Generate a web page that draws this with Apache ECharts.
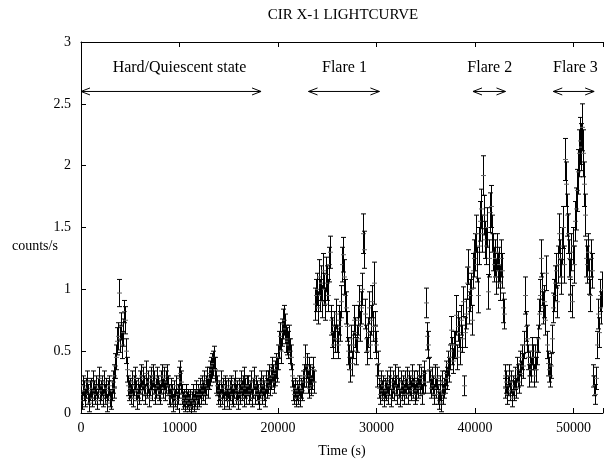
<!DOCTYPE html>
<html>
<head>
<meta charset="utf-8">
<script src="https://cdn.jsdelivr.net/npm/echarts@6/dist/echarts.min.js"></script>
<style>
  html, body { margin: 0; padding: 0; background: #fff; }
  #chart { width: 606px; height: 463px; }
</style>
</head>
<body>
<div id="chart"></div>
<script>
// light curve in 100 s bins, first bin at t = 0 (one row = 1000 s)
var binSize = 100;
var rates = [
  0.15, 0.10, 0.22, 0.18, 0.12, 0.20, 0.25, 0.15, 0.08, 0.18,
  0.20, 0.12, 0.25, 0.18, 0.15, 0.22, 0.10, 0.20, 0.28, 0.15,
  0.18, 0.22, 0.12, 0.25, 0.15, 0.20, 0.08, 0.18, 0.22, 0.12,
  0.10, 0.18, 0.25, 0.20, 0.30, 0.38, 0.45, 0.58, 0.62, 0.97,
  0.60, 0.70, 0.55, 0.65, 0.82, 0.75, 0.50, 0.35, 0.22, 0.18,
  0.20, 0.15, 0.25, 0.12, 0.22, 0.28, 0.18, 0.10, 0.20, 0.15,
  0.25, 0.30, 0.18, 0.28, 0.22, 0.15, 0.32, 0.20, 0.25, 0.12,
  0.22, 0.28, 0.18, 0.30, 0.25, 0.15, 0.20, 0.28, 0.22, 0.18,
  0.15, 0.25, 0.30, 0.20, 0.28, 0.18, 0.25, 0.30, 0.22, 0.15,
  0.12, 0.20, 0.15, 0.08, 0.18, 0.12, 0.22, 0.10, 0.15, 0.20,
  0.28, 0.32, 0.25, 0.15, 0.10, 0.12, 0.08, 0.15, 0.10, 0.12,
  0.08, 0.12, 0.05, 0.10, 0.15, 0.08, 0.12, 0.18, 0.10, 0.15,
  0.12, 0.20, 0.15, 0.22, 0.18, 0.25, 0.15, 0.22, 0.28, 0.20,
  0.28, 0.32, 0.35, 0.38, 0.40, 0.45, 0.35, 0.25, 0.22, 0.15,
  0.18, 0.12, 0.25, 0.15, 0.20, 0.10, 0.22, 0.18, 0.12, 0.20,
  0.10, 0.18, 0.22, 0.15, 0.12, 0.20, 0.25, 0.15, 0.18, 0.10,
  0.20, 0.15, 0.25, 0.18, 0.22, 0.12, 0.28, 0.20, 0.15, 0.22,
  0.22, 0.15, 0.18, 0.25, 0.12, 0.20, 0.28, 0.15, 0.22, 0.18,
  0.15, 0.10, 0.20, 0.25, 0.15, 0.22, 0.18, 0.12, 0.25, 0.20,
  0.25, 0.30, 0.22, 0.28, 0.35, 0.30, 0.25, 0.32, 0.38, 0.35,
  0.45, 0.55, 0.62, 0.50, 0.65, 0.72, 0.75, 0.68, 0.60, 0.58,
  0.55, 0.60, 0.50, 0.45, 0.30, 0.18, 0.15, 0.20, 0.12, 0.18,
  0.15, 0.22, 0.12, 0.20, 0.18, 0.25, 0.30, 0.45, 0.30, 0.38,
  0.25, 0.35, 0.20, 0.30, 0.22, 0.28, 0.35, 0.25, 0.88, 0.95,
  1.00, 0.85, 1.10, 0.95, 1.05, 0.90, 1.15, 1.00, 0.88, 1.12,
  1.05, 0.95, 1.20, 1.30, 0.75, 0.65, 0.55, 0.70, 0.60, 0.80,
  0.60, 0.55, 0.75, 0.70, 0.90, 1.20, 1.28, 1.10, 0.95, 0.85,
  0.70, 0.50, 0.45, 0.35, 0.60, 0.40, 0.55, 0.75, 0.65, 0.50,
  0.60, 0.75, 0.90, 0.70, 0.85, 1.00, 1.45, 1.32, 0.80, 0.60,
  0.50, 0.65, 0.85, 0.55, 0.75, 0.90, 0.70, 1.05, 0.60, 0.70,
  0.55, 0.30, 0.40, 0.20, 0.15, 0.25, 0.18, 0.22, 0.12, 0.20,
  0.18, 0.25, 0.15, 0.22, 0.28, 0.12, 0.20, 0.25, 0.18, 0.30,
  0.22, 0.15, 0.28, 0.20, 0.12, 0.25, 0.18, 0.22, 0.15, 0.25,
  0.20, 0.28, 0.15, 0.25, 0.22, 0.18, 0.30, 0.20, 0.25, 0.15,
  0.18, 0.25, 0.20, 0.30, 0.22, 0.28, 0.15, 0.25, 0.32, 0.25,
  0.89, 0.62, 0.55, 0.35, 0.25, 0.20, 0.28, 0.22, 0.15, 0.30,
  0.20, 0.28, 0.15, 0.10, 0.22, 0.18, 0.08, 0.25, 0.15, 0.20,
  0.25, 0.32, 0.28, 0.40, 0.35, 0.45, 0.67, 0.50, 0.42, 0.55,
  0.55, 0.79, 0.45, 0.70, 0.65, 0.50, 0.75, 0.60, 0.90, 0.22,
  0.65, 0.80, 1.05, 1.18, 0.85, 0.95, 1.00, 0.75, 1.15, 1.25,
  1.30, 1.45, 1.20, 0.95, 1.35, 1.55, 1.65, 1.45, 1.92, 1.60,
  1.40, 1.35, 1.50, 0.98, 1.25, 1.62, 1.67, 1.45, 1.30, 1.20,
  1.25, 1.10, 1.30, 1.15, 1.20, 1.05, 1.25, 1.15, 0.85, 0.80,
  0.30, 0.20, 0.25, 0.15, 0.22, 0.30, 0.18, 0.25, 0.12, 0.22,
  0.18, 0.28, 0.20, 0.35, 0.30, 0.25, 0.40, 0.32, 0.45, 0.38,
  0.55, 0.95, 0.70, 0.60, 0.45, 0.30, 0.40, 0.35, 0.50, 0.45,
  0.30, 0.45, 0.35, 0.50, 0.60, 0.80, 0.95, 1.25, 1.00, 0.85,
  0.90, 0.75, 1.13, 0.55, 0.40, 0.35, 0.30, 0.38, 0.60, 0.85,
  0.95, 1.05, 1.15, 0.90, 1.20, 1.45, 1.25, 1.10, 1.35, 1.50,
  1.20, 2.05, 1.85, 1.60, 1.45, 1.25, 0.95, 1.10, 1.30, 0.90,
  1.35, 1.20, 1.55, 1.65, 1.80, 1.95, 2.10, 2.20, 2.15, 2.31,
  2.10, 1.85, 1.60, 1.25, 1.20, 1.30, 1.10, 0.95, 1.25, 1.15,
  0.30, 0.22, 0.15, 0.28, 0.55, 0.80, 0.65, 0.95, 0.85, 1.00
];
var errors = [
  0.08, 0.07, 0.08, 0.08, 0.07, 0.08, 0.09, 0.08, 0.07, 0.08,
  0.08, 0.07, 0.09, 0.08, 0.08, 0.08, 0.07, 0.08, 0.09, 0.08,
  0.08, 0.08, 0.07, 0.09, 0.08, 0.08, 0.07, 0.08, 0.08, 0.07,
  0.07, 0.08, 0.09, 0.08, 0.09, 0.10, 0.10, 0.11, 0.11, 0.11,
  0.11, 0.11, 0.11, 0.11, 0.09, 0.11, 0.10, 0.10, 0.08, 0.08,
  0.08, 0.08, 0.09, 0.07, 0.08, 0.09, 0.08, 0.07, 0.08, 0.08,
  0.09, 0.09, 0.08, 0.09, 0.08, 0.08, 0.10, 0.08, 0.09, 0.07,
  0.08, 0.09, 0.08, 0.09, 0.09, 0.08, 0.08, 0.09, 0.08, 0.08,
  0.08, 0.09, 0.09, 0.08, 0.09, 0.08, 0.09, 0.09, 0.08, 0.08,
  0.07, 0.08, 0.08, 0.07, 0.08, 0.07, 0.08, 0.07, 0.08, 0.08,
  0.09, 0.10, 0.09, 0.08, 0.07, 0.07, 0.07, 0.08, 0.07, 0.07,
  0.07, 0.07, 0.06, 0.07, 0.08, 0.07, 0.07, 0.08, 0.07, 0.08,
  0.07, 0.08, 0.08, 0.08, 0.08, 0.09, 0.08, 0.08, 0.09, 0.08,
  0.09, 0.10, 0.10, 0.10, 0.10, 0.09, 0.10, 0.09, 0.08, 0.08,
  0.08, 0.07, 0.09, 0.08, 0.08, 0.07, 0.08, 0.08, 0.07, 0.08,
  0.07, 0.08, 0.08, 0.08, 0.07, 0.08, 0.09, 0.08, 0.08, 0.07,
  0.08, 0.08, 0.09, 0.08, 0.08, 0.07, 0.09, 0.08, 0.08, 0.08,
  0.08, 0.08, 0.08, 0.09, 0.07, 0.08, 0.09, 0.08, 0.08, 0.08,
  0.08, 0.07, 0.08, 0.09, 0.08, 0.08, 0.08, 0.07, 0.09, 0.08,
  0.09, 0.09, 0.08, 0.09, 0.10, 0.09, 0.09, 0.10, 0.10, 0.10,
  0.10, 0.11, 0.11, 0.10, 0.11, 0.12, 0.12, 0.12, 0.11, 0.11,
  0.11, 0.11, 0.10, 0.10, 0.09, 0.08, 0.08, 0.08, 0.07, 0.08,
  0.08, 0.08, 0.07, 0.08, 0.08, 0.09, 0.09, 0.10, 0.09, 0.10,
  0.09, 0.10, 0.08, 0.09, 0.08, 0.09, 0.10, 0.09, 0.13, 0.13,
  0.13, 0.13, 0.14, 0.13, 0.14, 0.13, 0.14, 0.13, 0.13, 0.14,
  0.14, 0.13, 0.14, 0.13, 0.12, 0.12, 0.11, 0.12, 0.11, 0.12,
  0.11, 0.11, 0.12, 0.12, 0.13, 0.14, 0.14, 0.14, 0.13, 0.13,
  0.12, 0.11, 0.10, 0.10, 0.11, 0.10, 0.11, 0.12, 0.12, 0.11,
  0.11, 0.12, 0.13, 0.12, 0.13, 0.13, 0.16, 0.15, 0.12, 0.11,
  0.11, 0.12, 0.13, 0.11, 0.12, 0.13, 0.12, 0.17, 0.11, 0.12,
  0.11, 0.09, 0.10, 0.08, 0.08, 0.09, 0.08, 0.08, 0.07, 0.08,
  0.08, 0.09, 0.08, 0.08, 0.09, 0.07, 0.08, 0.09, 0.08, 0.09,
  0.08, 0.08, 0.09, 0.08, 0.07, 0.09, 0.08, 0.08, 0.08, 0.09,
  0.08, 0.09, 0.08, 0.09, 0.08, 0.08, 0.09, 0.08, 0.09, 0.08,
  0.08, 0.09, 0.08, 0.09, 0.08, 0.09, 0.08, 0.09, 0.10, 0.09,
  0.12, 0.11, 0.11, 0.10, 0.09, 0.08, 0.09, 0.08, 0.08, 0.09,
  0.08, 0.09, 0.08, 0.07, 0.08, 0.08, 0.07, 0.09, 0.08, 0.08,
  0.09, 0.10, 0.09, 0.10, 0.10, 0.10, 0.11, 0.11, 0.10, 0.11,
  0.11, 0.16, 0.10, 0.12, 0.12, 0.11, 0.12, 0.11, 0.12, 0.08,
  0.12, 0.12, 0.13, 0.14, 0.13, 0.13, 0.13, 0.12, 0.14, 0.15,
  0.15, 0.15, 0.14, 0.14, 0.15, 0.16, 0.16, 0.15, 0.16, 0.16,
  0.15, 0.15, 0.16, 0.14, 0.15, 0.16, 0.17, 0.15, 0.15, 0.14,
  0.15, 0.14, 0.15, 0.14, 0.14, 0.14, 0.15, 0.14, 0.12, 0.12,
  0.09, 0.08, 0.09, 0.08, 0.08, 0.09, 0.08, 0.09, 0.07, 0.08,
  0.08, 0.09, 0.08, 0.10, 0.09, 0.09, 0.10, 0.10, 0.10, 0.10,
  0.11, 0.15, 0.12, 0.11, 0.10, 0.09, 0.10, 0.10, 0.11, 0.10,
  0.09, 0.10, 0.10, 0.11, 0.11, 0.12, 0.13, 0.15, 0.13, 0.13,
  0.13, 0.12, 0.14, 0.11, 0.10, 0.10, 0.09, 0.10, 0.11, 0.12,
  0.13, 0.14, 0.14, 0.13, 0.15, 0.16, 0.15, 0.14, 0.15, 0.17,
  0.15, 0.17, 0.18, 0.17, 0.16, 0.15, 0.13, 0.14, 0.15, 0.13,
  0.15, 0.15, 0.16, 0.17, 0.17, 0.18, 0.19, 0.19, 0.19, 0.19,
  0.19, 0.18, 0.17, 0.15, 0.15, 0.15, 0.14, 0.13, 0.15, 0.14,
  0.09, 0.08, 0.08, 0.09, 0.11, 0.12, 0.12, 0.13, 0.13, 0.14
];

// state annotations: double arrows and their labels
var stateNames = ['Hard/Quiescent state', 'Flare 1', 'Flare 2', 'Flare 3'];
var arrowFrom = [0, 23100, 39800, 47950];
var arrowTo = [18280, 30300, 43100, 52100];
var arrowLevel = 2.6;
var labelX = [10000, 26750, 41500, 50200];
var labelLevel = 2.79;

var xTicks = [0, 10000, 20000, 30000, 40000, 50000];

var points = rates.map(function (r, i) { return [i * binSize, r, errors[i]]; });
var arrows = stateNames.map(function (n, i) { return [arrowFrom[i], arrowTo[i], arrowLevel]; });

var font = '"Liberation Serif", "DejaVu Serif", serif';
var chart = echarts.init(document.getElementById('chart'));

var option = {
  animation: false,
  backgroundColor: '#fff',
  title: {
    text: 'CIR X-1 LIGHTCURVE',
    left: 338, top: 3, textAlign: 'center',
    textStyle: { fontFamily: font, fontSize: 15, fontWeight: 'normal', color: '#000' }
  },
  graphic: [{
    type: 'text', left: 12, top: 239,
    style: { text: 'counts/s', font: '14px ' + font, fill: '#000' }
  }],
  grid: { left: 81, right: 0, top: 42, bottom: 50 },
  xAxis: [{
    type: 'value', min: 0, max: 53000, interval: 10000,
    name: 'Time (s)', nameLocation: 'middle', nameGap: 31,
    nameTextStyle: { fontFamily: font, fontSize: 14, color: '#000' },
    axisLine: { lineStyle: { color: '#000', width: 1 } },
    axisTick: { inside: true, length: 5, lineStyle: { color: '#000' } },
    axisLabel: {
      margin: 8, fontFamily: font, fontSize: 14, color: '#000',
      formatter: function (v) { return xTicks.indexOf(v) >= 0 ? String(v) : ''; }
    },
    splitLine: { show: false }
  }, {
    type: 'value', position: 'top', min: 0, max: 53000, interval: 10000,
    axisLine: { lineStyle: { color: '#000', width: 1 } },
    axisTick: { inside: true, length: 5, lineStyle: { color: '#000' } },
    axisLabel: { show: false },
    splitLine: { show: false }
  }],
  yAxis: {
    type: 'value', min: 0, max: 3, interval: 0.5,
    axisLine: { show: true, lineStyle: { color: '#000', width: 1 } },
    axisTick: { show: true, inside: true, length: 5, lineStyle: { color: '#000' } },
    axisLabel: { margin: 10, fontFamily: font, fontSize: 14, color: '#000' },
    splitLine: { show: false }
  },
  series: [{
    type: 'custom',
    clip: true,
    data: points,
    renderItem: function (params, api) {
      var x = api.value(0), y = api.value(1), e = api.value(2);
      var p = api.coord([x, y]);
      var hi = api.coord([x, y + e]);
      var lo = api.coord([x, y - e]);
      var cx = Math.round(p[0]) + 0.5;
      var w = 2.5;
      var bar = { stroke: '#000', lineWidth: 1 };
      return {
        type: 'group',
        children: [
          { type: 'line', shape: { x1: cx, y1: hi[1], x2: cx, y2: lo[1] }, style: bar },
          { type: 'line', shape: { x1: cx - w, y1: hi[1], x2: cx + w, y2: hi[1] }, style: bar },
          { type: 'line', shape: { x1: cx - w, y1: lo[1], x2: cx + w, y2: lo[1] }, style: bar },
          { type: 'line', shape: { x1: cx - 2.5, y1: p[1], x2: cx + 2.5, y2: p[1] }, style: { stroke: '#666', lineWidth: 1 } }
        ]
      };
    }
  }, {
    type: 'custom',
    clip: false,
    data: arrows,
    renderItem: function (params, api) {
      var i = params.dataIndex;
      var a = api.coord([api.value(0), api.value(2)]);
      var b = api.coord([api.value(1), api.value(2)]);
      var t = api.coord([labelX[i], labelLevel]);
      var L = 9, h = 3.5;
      var s = { stroke: '#000', lineWidth: 1, fill: null };
      return {
        type: 'group',
        children: [
          { type: 'line', shape: { x1: a[0], y1: a[1], x2: b[0], y2: b[1] }, style: s },
          { type: 'polyline', shape: { points: [[a[0] + L, a[1] - h], [a[0], a[1]], [a[0] + L, a[1] + h]] }, style: s },
          { type: 'polyline', shape: { points: [[b[0] - L, b[1] - h], [b[0], b[1]], [b[0] - L, b[1] + h]] }, style: s },
          { type: 'text', x: t[0], y: t[1], style: { text: stateNames[i], font: '16px ' + font, fill: '#000', align: 'center', verticalAlign: 'middle' } }
        ]
      };
    }
  }]
};

chart.setOption(option);
</script>
</body>
</html>
